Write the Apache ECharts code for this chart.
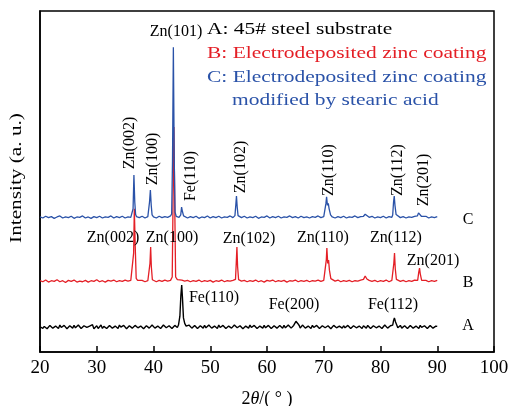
<!DOCTYPE html>
<html><head><meta charset="utf-8">
<script src="https://cdn.jsdelivr.net/npm/echarts@6/dist/echarts.min.js"></script>
<style>html,body{margin:0;padding:0;background:#fff}#c{width:513px;height:406px}</style>
</head><body><div id="c"></div>
<script>
// x: 2theta (deg), y: intensity (arbitrary units, offset per pattern)
const xTicks = [20, 30, 40, 50, 60, 70, 80, 90, 100];

const seriesA = [[20,7.4],[20.25,7.9],[20.5,6.9],[20.75,7.5],[21,7.7],[21.25,6.8],[21.5,7.1],[21.75,7.8],[22,7.6],[22.25,7.0],[22.5,6.8],[22.75,7.6],[23,7.4],[23.25,6.9],[23.5,7.9],[23.75,7.2],[24,7.0],[24.25,7.8],[24.5,7.5],[24.75,6.8],[25,6.8],[25.25,7.7],[25.5,7.6],[25.75,7.0],[26,7.8],[26.25,7.1],[26.5,7.0],[26.75,7.9],[27,7.5],[27.25,6.9],[27.5,7.1],[27.75,7.7],[28,7.9],[28.25,7.2],[28.5,6.9],[28.75,7.6],[29,7.4],[29.25,8.0],[29.5,6.8],[29.75,7.3],[30,7.7],[30.25,6.9],[30.5,7.2],[30.75,7.9],[31,6.9],[31.25,7.5],[31.5,7.8],[31.75,6.9],[32,7.1],[32.25,7.8],[32.5,7.6],[32.75,7.0],[33,6.8],[33.25,7.6],[33.5,7.4],[33.75,6.9],[34,7.9],[34.25,7.3],[34.5,7.0],[34.75,7.8],[35,7.5],[35.25,6.8],[35.5,6.9],[35.75,7.7],[36,7.7],[36.25,7.0],[36.5,7.2],[36.75,7.8],[37,7.9],[37.25,7.1],[37.5,7.0],[37.75,7.6],[38,7.4],[38.25,6.8],[38.5,6.9],[38.75,7.7],[39,7.8],[39.25,7.0],[39.5,7.1],[39.75,7.9],[40,7.6],[40.25,7.0],[40.5,6.9],[40.75,7.6],[41,7.7],[41.25,6.9],[41.5,7.2],[41.75,7.9],[42,7.8],[42.25,7.1],[42.5,7.0],[42.75,7.7],[43,7.5],[43.25,6.9],[43.5,7.2],[43.75,7.8],[44,7.6],[44.2,7.2],[44.4,7.9],[44.65,10.5],[44.82,16.5],[44.97,19.6],[45.1,16],[45.28,10],[45.5,8.4],[45.75,7.6],[46,7.3],[46.25,7.9],[46.5,7.7],[46.75,7.0],[47,7.0],[47.25,7.8],[47.5,7.6],[47.75,6.9],[48,6.9],[48.25,7.7],[48.5,7.5],[48.75,7.0],[49,7.8],[49.25,7.1],[49.5,7.1],[49.75,7.9],[50,7.6],[50.25,7.0],[50.5,6.8],[50.75,7.6],[51,7.4],[51.25,6.9],[51.5,7.9],[51.75,7.2],[52,7.0],[52.25,7.8],[52.5,7.5],[52.75,6.9],[53,6.9],[53.25,7.6],[53.5,7.7],[53.75,7.0],[54,7.2],[54.25,7.9],[54.5,7.8],[54.75,7.1],[55,7.0],[55.25,7.7],[55.5,7.5],[55.75,6.8],[56,6.9],[56.25,7.6],[56.5,7.6],[56.75,7.0],[57,7.9],[57.25,7.2],[57.5,7.1],[57.75,7.8],[58,7.5],[58.25,6.9],[58.5,6.8],[58.75,7.6],[59,7.4],[59.25,7.0],[59.5,7.8],[59.75,7.1],[60,7.0],[60.25,7.8],[60.5,7.6],[60.75,6.9],[61,7.1],[61.25,7.7],[61.5,7.7],[61.75,7.0],[62,6.9],[62.25,7.8],[62.5,7.5],[62.75,7.0],[63,7.8],[63.25,7.1],[63.5,7.1],[63.75,7.9],[64,7.6],[64.25,7.0],[64.5,7.2],[64.7,7.8],[64.9,7.9],[65.1,9.0],[65.25,9.4],[65.45,8.3],[65.7,7.7],[65.85,7.0],[66,7.2],[66.25,7.9],[66.5,7.7],[66.75,7.0],[67,6.9],[67.25,7.6],[67.5,7.5],[67.75,6.9],[68,7.8],[68.25,7.2],[68.5,7.0],[68.75,7.8],[69,7.6],[69.25,6.9],[69.5,7.1],[69.75,7.7],[70,7.8],[70.25,7.1],[70.5,6.9],[70.75,7.7],[71,7.5],[71.25,6.8],[71.5,7.2],[71.75,7.8],[72,7.8],[72.25,7.1],[72.5,6.9],[72.75,7.6],[73,7.5],[73.25,7.0],[73.5,7.7],[73.75,7.1],[74,7.0],[74.25,7.8],[74.5,7.6],[74.75,6.9],[75,7.1],[75.25,7.7],[75.5,7.8],[75.75,7.1],[76,6.9],[76.25,7.6],[76.5,7.4],[76.75,6.9],[77,7.7],[77.25,7.2],[77.5,7.0],[77.75,7.8],[78,7.6],[78.25,6.9],[78.5,7.1],[78.75,7.7],[79,7.8],[79.25,7.1],[79.5,6.9],[79.75,7.6],[80,7.5],[80.25,6.9],[80.5,7.2],[80.75,7.9],[81,7.8],[81.25,7.0],[81.5,7.0],[81.75,7.7],[82,7.6],[82.15,7.9],[82.3,9.2],[82.45,10.0],[82.65,8.8],[82.9,7.8],[83.05,7.1],[83.2,7.4],[83.5,7.8],[83.75,7.0],[84,7.0],[84.25,7.7],[84.5,7.6],[84.75,6.9],[85,7.1],[85.25,7.8],[85.5,7.7],[85.75,7.0],[86,6.9],[86.25,7.6],[86.5,7.5],[86.75,6.9],[87,7.8],[87.25,7.2],[87.5,7.0],[87.75,7.7],[88,7.6],[88.25,6.9],[88.5,7.2],[88.75,7.8],[89,7.7],[89.25,7.0],[89.5,7.0],[89.75,7.6],[90,7.5]];

const seriesB = [[20,20.9],[20.5,20.6],[21,21.1],[21.5,20.5],[22,20.9],[22.5,20.7],[23,21.2],[23.5,20.6],[24,20.9],[24.5,20.4],[25,21.0],[25.5,20.7],[26,21.1],[26.5,20.5],[27,20.8],[27.5,20.6],[28,21.0],[28.5,20.5],[29,20.9],[29.5,20.7],[30,21.2],[30.5,20.6],[31,20.9],[31.5,20.5],[32,21.0],[32.5,20.8],[33,21.1],[33.5,20.6],[34,20.9],[34.5,20.7],[35,21.1],[35.5,20.8],[36,21.0],[36.35,21.3],[36.5,29],[36.62,42],[36.78,31],[36.95,21.6],[37.2,21.0],[37.5,20.7],[38,21.0],[38.5,20.6],[39,20.9],[39.2,21.1],[39.38,26],[39.5,30.8],[39.62,25],[39.8,21.2],[40,20.9],[40.5,20.6],[41,21.0],[41.5,20.7],[42,21.1],[42.5,20.8],[43,21.0],[43.3,22],[43.45,45],[43.6,66],[43.75,42],[43.9,22],[44.2,21.2],[44.5,20.9],[45,21.1],[45.5,20.8],[46,21.0],[46.5,20.6],[47,20.9],[47.5,20.7],[48,21.1],[48.5,20.6],[49,20.9],[49.5,20.7],[50,21.0],[50.5,20.5],[51,20.9],[51.5,20.7],[52,21.1],[52.5,20.6],[53,20.9],[53.5,20.8],[54,21.0],[54.45,21.3],[54.58,26],[54.7,30.8],[54.82,25],[55.0,21.2],[55.5,20.8],[56,21.0],[56.5,20.6],[57,20.9],[57.5,20.7],[58,21.1],[58.5,20.6],[59,20.9],[59.5,20.5],[60,21.0],[60.5,20.8],[61,21.1],[61.5,20.6],[62,20.9],[62.5,20.7],[63,21.0],[63.5,20.5],[64,20.9],[64.5,20.8],[65,21.1],[65.5,20.6],[66,20.9],[66.5,20.7],[67,21.0],[67.5,20.6],[68,20.9],[68.5,20.8],[69,21.1],[69.5,20.7],[70,21.0],[70.3,21.5],[70.45,27],[70.55,30.5],[70.7,26],[70.85,27],[71.0,24],[71.25,21.5],[71.5,21.0],[72,20.8],[72.5,21.1],[73,20.6],[73.5,20.9],[74,20.7],[74.5,21.0],[75,20.6],[75.5,20.9],[76,20.8],[76.5,21.1],[77,21.3],[77.3,22.3],[77.6,21.4],[78,21.0],[78.5,20.7],[79,21.0],[79.5,20.6],[80,20.9],[80.5,20.7],[81,21.1],[81.5,20.6],[82,21.0],[82.2,21.3],[82.35,26],[82.47,29],[82.6,24.5],[82.8,21.3],[83,20.9],[83.5,20.7],[84,21.0],[84.5,20.6],[85,20.9],[85.5,20.7],[86,21.1],[86.55,21.0],[86.75,23.5],[86.88,24.6],[87.0,23.0],[87.25,21.0],[87.5,20.8],[88,21.0],[88.5,20.6],[89,20.9],[89.5,20.7],[90,21.0]];

const seriesC = [[20,39.6],[20.5,39.3],[21,39.8],[21.5,39.4],[22,39.7],[22.5,39.2],[23,39.6],[23.5,39.9],[24,39.3],[24.5,39.6],[25,39.4],[25.5,39.8],[26,39.2],[26.5,39.6],[27,39.5],[27.5,39.9],[28,39.3],[28.5,39.6],[29,39.2],[29.5,39.7],[30,39.4],[30.5,39.8],[31,39.3],[31.5,39.6],[32,39.5],[32.5,39.9],[33,39.3],[33.5,39.7],[34,39.4],[34.5,39.8],[35,39.3],[35.5,39.6],[36,39.5],[36.2,39.8],[36.4,42.0],[36.55,51.9],[36.7,44.0],[36.85,40.3],[37,39.7],[37.5,39.4],[38,39.8],[38.5,39.3],[39,39.7],[39.15,40.2],[39.3,44.0],[39.45,47.5],[39.6,43.0],[39.75,40.2],[40,39.6],[40.5,39.3],[41,39.8],[41.5,39.4],[42,39.7],[42.5,39.5],[43,39.9],[43.2,40.5],[43.35,56],[43.5,89.4],[43.65,57],[43.8,41],[44,39.8],[44.5,39.5],[44.8,40.2],[44.95,42.5],[45.1,41.2],[45.3,39.9],[45.5,39.6],[46,39.3],[46.5,39.7],[47,39.4],[47.5,39.8],[48,39.2],[48.5,39.6],[49,39.4],[49.5,39.9],[50,39.3],[50.5,39.7],[51,39.4],[51.5,39.8],[52,39.3],[52.5,39.6],[53,39.5],[53.5,39.9],[54,39.4],[54.35,40.0],[54.5,43.0],[54.62,45.7],[54.75,42.5],[54.9,40.0],[55,39.7],[55.5,39.4],[56,39.8],[56.5,39.3],[57,39.6],[57.5,39.4],[58,39.8],[58.5,39.2],[59,39.6],[59.5,39.5],[60,39.9],[60.5,39.3],[61,39.7],[61.5,39.4],[62,39.8],[62.5,39.3],[63,39.6],[63.5,39.5],[64,39.9],[64.5,39.4],[65,39.7],[65.5,39.3],[66,39.8],[66.5,39.4],[67,39.6],[67.5,39.3],[68,39.7],[68.5,39.5],[69,39.9],[69.5,39.4],[70,39.7],[70.2,40.0],[70.38,43.5],[70.5,45.5],[70.65,43.0],[70.8,43.6],[70.95,42.0],[71.2,40.2],[71.5,39.6],[72,39.3],[72.5,39.7],[73,39.4],[73.5,39.8],[74,39.3],[74.5,39.6],[75,39.5],[75.5,39.9],[76,39.4],[76.5,39.7],[77,39.8],[77.3,40.4],[77.6,39.9],[78,39.5],[78.5,39.8],[79,39.3],[79.5,39.6],[80,39.4],[80.5,39.8],[81,39.3],[81.5,39.7],[82,39.5],[82.15,40.2],[82.3,44.0],[82.42,45.7],[82.55,43.0],[82.75,40.3],[83,39.8],[83.5,39.4],[84,39.7],[84.5,39.3],[85,39.6],[85.5,39.5],[86,39.8],[86.5,39.9],[86.7,40.8],[86.85,41.3],[87.0,40.6],[87.2,39.8],[87.5,39.5],[88,39.8],[88.5,39.3],[89,39.6],[89.5,39.4],[90,39.7]];

const legendLines = [
  {text: 'A: 45# steel substrate', color: '#000000'},
  {text: 'B: Electrodeposited zinc coating', color: '#e41f26'},
  {text: 'C: Electrodeposited zinc coating', color: '#2a52a8'},
  {text: 'modified by stearic acid', color: '#2a52a8'}
];
const peakLabelsC = ['Zn(002)', 'Zn(100)', 'Fe(110)', 'Zn(102)', 'Zn(110)', 'Zn(112)', 'Zn(201)'];
const peakLabelsB = ['Zn(002)', 'Zn(100)', 'Zn(102)', 'Zn(110)', 'Zn(112)', 'Zn(201)'];
const peakLabelsA = ['Fe(110)', 'Fe(200)', 'Fe(112)'];

const FONT = '"Liberation Serif", "Times New Roman", serif';
const BLUE = '#2a52a8', RED = '#e41f26';

function txt(text, x, y, o) {
  o = o || {};
  return {
    type: 'text', x: x, y: y, rotation: o.rot || 0, scaleX: o.sx || 1, scaleY: o.sy || 1, z: 100,
    style: {
      text: text, fill: o.color || '#000', font: (o.size || 16) + 'px ' + FONT,
      textAlign: o.align || 'center', textVerticalAlign: 'middle'
    }
  };
}

const posC = [[130,143],[153,159],[191,176],[241,167],[329,170],[398,170],[424,180]];
const posB = [[113,238],[172,238],[249,239],[323,238],[396,238],[433,261]];
const posA = [[214,298],[294,305],[393,305]];
const graphics = [];
peakLabelsC.forEach((t, i) => graphics.push(txt(t, posC[i][0], posC[i][1], {rot: Math.PI / 2})));
peakLabelsB.forEach((t, i) => graphics.push(txt(t, posB[i][0], posB[i][1])));
peakLabelsA.forEach((t, i) => graphics.push(txt(t, posA[i][0], posA[i][1])));
graphics.push(txt('Zn(101)', 176, 32));
graphics.push(txt('C', 468, 220));
graphics.push(txt('B', 468, 283));
graphics.push(txt('A', 468, 326));
const legPos = [[207,30],[207,53.5],[207,78],[232,101]];
legendLines.forEach((l, i) => graphics.push(txt(l.text, legPos[i][0], legPos[i][1], {align: 'left', color: l.color, size: 16.5, sx: 1.3})));
graphics.push(txt('Intensity (a. u.)', 17, 178, {rot: Math.PI / 2, size: 17, sx: 1.25}));

const chart = echarts.init(document.getElementById('c'), null, {renderer: 'canvas'});
chart.setOption({
  animation: false,
  backgroundColor: '#fff',
  grid: {left: 40, right: 19, top: 11, bottom: 54, containLabel: false, outerBoundsMode: 'none',
    show: true, borderColor: '#000', borderWidth: 1.5, backgroundColor: 'transparent'},
  xAxis: {
    type: 'value', min: xTicks[0], max: xTicks[xTicks.length - 1], interval: 10,
    splitLine: {show: false},
    axisLine: {lineStyle: {color: '#000', width: 1.5}},
    axisTick: {inside: true, length: 6, lineStyle: {color: '#000', width: 1.5}},
    axisLabel: {color: '#000', fontSize: 19, fontFamily: FONT, margin: 7},
    name: '2{i|θ}/( ° )', nameLocation: 'middle', nameGap: 38,
    nameTextStyle: {color: '#000', fontSize: 18, fontFamily: FONT,
      rich: {i: {fontStyle: 'italic', fontSize: 18, fontFamily: FONT, color: '#000'}}}
  },
  yAxis: {
    type: 'value', min: 0, max: 100,
    splitLine: {show: false}, axisLabel: {show: false}, axisTick: {show: false},
    axisLine: {show: true, lineStyle: {color: '#000', width: 1.5}}
  },
  series: [
    {type: 'line', data: seriesA, showSymbol: false, lineStyle: {color: '#000', width: 1.4}, z: 2},
    {type: 'line', data: seriesB, showSymbol: false, lineStyle: {color: RED, width: 1.3}, z: 3},
    {type: 'line', data: seriesC, showSymbol: false, lineStyle: {color: BLUE, width: 1.3}, z: 4}
  ],
  graphic: graphics
});
</script>
</body></html>
